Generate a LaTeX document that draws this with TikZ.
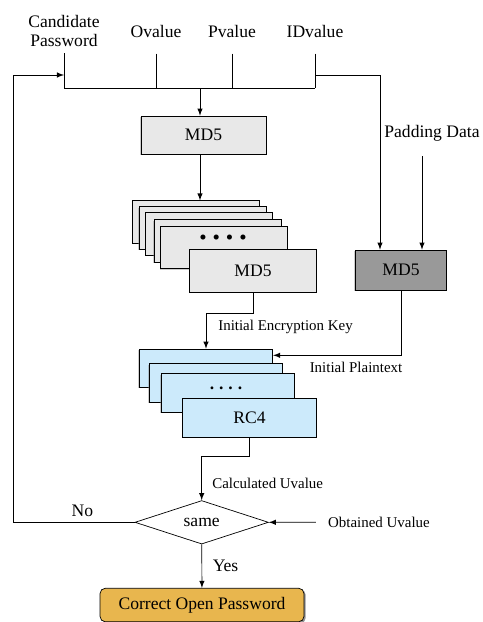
\documentclass[tikz,border=0pt]{standalone}
\usepackage{fontspec}
\setmainfont{Liberation Serif}
\usetikzlibrary{positioning,arrows,shapes,shadows}
\definecolor{lightbox}{HTML}{E8E8E8}
\definecolor{darkbox}{HTML}{999999}
\definecolor{rcblue}{HTML}{CCEAFB}
\definecolor{okgold}{HTML}{E8B64E}
\tikzset{
line width=0.6pt,
>=latex,
txt/.style={inner sep=0pt,font=\fontsize{10}{11}\selectfont},
small/.style={inner sep=0pt,font=\fontsize{8.5}{10}\selectfont},
md5/.style={draw,rectangle,fill=lightbox,minimum width=2.54cm,minimum height=0.85cm,
  font=\fontsize{10}{12}\selectfont,drop shadow={shadow xshift=-0.5pt,shadow yshift=-0.5pt,fill=black!50,opacity=0.4}},
rc/.style={md5,fill=rcblue,minimum width=2.67cm,minimum height=0.77cm},
test/.style={draw,diamond,aspect=3,inner sep=1pt,minimum width=2.67cm,minimum height=0.87cm,
  font=\fontsize{10}{12}\selectfont},
goal/.style={draw,rectangle,rounded corners=3pt,fill=okgold,minimum width=4.08cm,minimum height=0.67cm,
  font=\fontsize{10}{12}\selectfont,drop shadow={shadow xshift=1pt,shadow yshift=-0.8pt,fill=black!70,opacity=0.6}}
}

\begin{document}
\begin{tikzpicture}[x=0.02cm,y=-0.02cm]
\useasboundingbox (0,0) rectangle (483,622);

% inputs
\node[txt,align=center] (cand)  at (64,31)  {Candidate\\Password};
\node[txt]              (oval)  at (156,31) {Ovalue};
\node[txt]              (pval)  at (232,31) {Pvalue};
\node[txt]              (idval) at (315,31) {IDvalue};
\node[txt]              (pad)   at (432,133) {Padding Data};

% first hash and its repetitions
\node[md5,minimum width=2.5cm,minimum height=0.76cm] (md5a) at (203.5,135) {MD5};
\node[md5] (md5s1) at (196,222)   {};
\node[md5] (md5s2) at (202.5,228) {};
\node[md5] (md5s3) at (209,234)   {};
\node[md5] (md5s4) at (217.8,241) {};
\node[md5] (md5s5) at (224,247.5) {};
\node[inner sep=0pt,font=\fontsize{12}{12}\selectfont] (md5dots) at (223,240)
  {\textbullet\hspace{3.4pt}\textbullet\hspace{3.4pt}\textbullet\hspace{3.4pt}\textbullet};
\node[md5] (md5b) at (253,270.7) {MD5};
\node[md5,fill=darkbox,minimum width=1.83cm,minimum height=0.8cm] (md5c) at (401,270) {MD5};

% RC4 rounds
\node[rc] (rc1) at (206,368.3) {};
\node[rc] (rc2) at (216,383)   {};
\node[rc] (rc3) at (227.8,393) {};
\node[inner sep=0pt,font=\fontsize{10}{12}\selectfont] (rcdots) at (226,388)
  {\textbf{.\hspace{2.8pt}.\hspace{2.8pt}.\hspace{2.8pt}.}};
\node[rc] (rc4) at (249.5,418) {RC4};

% check
\node[test] (same)  at (201.7,522.3) {same};
\node[goal] (final) at (202,605) {Correct Open Password};

% labels
\node[small,anchor=west] (ekey) at (218,327) {Initial Encryption Key};
\node[small] (plain) at (356,367) {Initial Plaintext};
\node[small,anchor=west] (calc) at (212,483) {Calculated Uvalue};
\node[small] (obt) at (379,522) {Obtained Uvalue};

\coordinate (bus) at (200,88);
\coordinate (fb)  at (13,75);
\coordinate (idin)  at ([xshift=-0.42cm]md5c.north);
\coordinate (padin) at ([xshift=0.42cm]md5c.north);

\draw[shorten <=0.12cm] (cand) -- (cand |- bus) -- (idval |- bus);
\draw[shorten <=0.32cm] (oval) -- (oval |- bus);
\draw[shorten <=0.32cm] (pval) -- (pval |- bus);
\draw[shorten <=0.32cm] (idval) -- (idval |- bus);
\draw[->] (bus) -- (bus |- md5a.north);
\draw[->] (bus |- md5a.south) -- (bus |- md5s1.north);
\draw[->] (idval |- fb) -| (idin);
\draw[->,shorten <=0.3cm] (pad.south -| padin) -- (padin);

\draw[->] (md5b.south) -- ++(0,21) -| (rc1.north);
\draw[->] (md5c.south) |- ([yshift=0.26cm]rc1.east);
\draw[->] (rc4.south) -- ++(0,19) -| (same.north);
\draw[->,shorten <=0.24cm] (obt) -- (same.east);
\draw[->] (same) -- node[txt,right=6pt] {Yes} (final);
\draw[->] (same.west) -- node[txt,above=3pt,pos=0.43] {No} (fb |- same) -- (fb) -- (cand |- fb);
\end{tikzpicture}
\end{document}
